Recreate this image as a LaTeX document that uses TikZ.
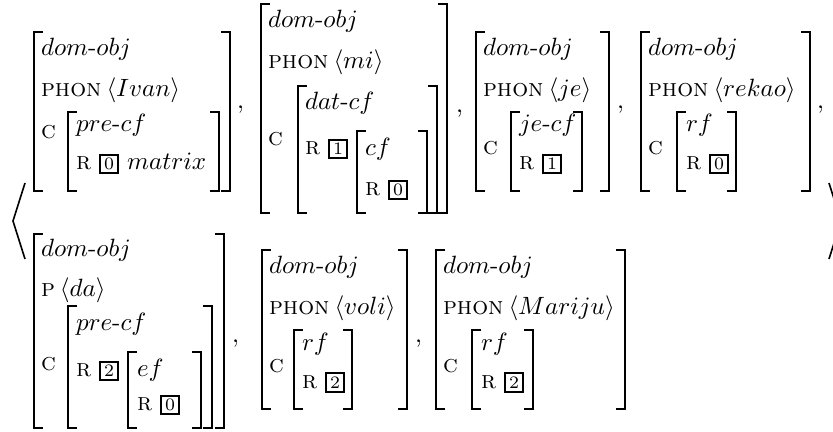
\documentclass[tikz,border=0pt]{standalone}
\usepackage{fontspec}
\newcommand{\tagbx}[1]{{\setlength{\fboxsep}{0pt}\setlength{\fboxrule}{0.8pt}\fbox{\makebox[6.2pt]{\rule[-1pt]{0pt}{6.6pt}\scriptsize #1}}}}
\newcommand{\avmL}[3]{\draw[brk] (#1+9,#2) -- (#1,#2) -- (#1,#3) -- (#1+9,#3);}
\newcommand{\avmR}[3]{\draw[brk] (#1-9,#2) -- (#1,#2) -- (#1,#3) -- (#1-9,#3);}
\newcommand{\dobj}{$dom$-$obj$}
\tikzset{
  txt/.style={anchor=base west, inner sep=0pt, outer sep=0pt, font=\fontsize{10pt}{12pt}\selectfont},
  brk/.style={line width=1pt, line cap=butt, line join=miter},
  ang/.style={line width=0.65pt, line join=miter},
}
\begin{document}
\begin{tikzpicture}[x=0.4pt,y=-0.4pt]
\useasboundingbox (0,0) rectangle (833,432);
\clip (0,0) rectangle (833,432);
% angle brackets
\draw[ang] (25,183) -- (13,221) -- (25,259);
\draw[ang] (829,183) -- (841,221) -- (829,259);
% ---------- AVM 1
\avmL{34}{32}{191} \avmR{230}{32}{191}
\avmL{68}{112}{191} \avmR{219}{112}{191}
\node[txt] (a1t) at (41,56) {\dobj};
\node[txt] (a1p) at (41,97) {\textsc{phon}\hspace{2pt}$\langle Ivan\rangle$};
\node[txt] (a1c) at (41,139) {\textsc{c}};
\node[txt] (a1it) at (76,132) {$pre$-$cf$};
\node[txt] (a1ir) at (76,170) {\textsc{r} \tagbx{0} $matrix$};
\node[txt] (cm1) at (237,109) {,};
% ---------- AVM 2
\avmL{261}{4}{213} \avmR{447}{4}{213}
\avmL{298}{86}{213} \avmR{437}{86}{213}
\avmL{357}{131}{213} \avmR{427}{131}{213}
\node[txt] (a2t) at (268,28) {\dobj};
\node[txt] (a2p) at (268,69) {\textsc{phon}\hspace{2pt}$\langle mi\rangle$};
\node[txt] (a2c) at (268,146) {\textsc{c}};
\node[txt] (a2it) at (305,110) {$dat$-$cf$};
\node[txt] (a2ir) at (305,155) {\textsc{r} \tagbx{1}};
\node[txt] (a2jt) at (365,156) {$cf$};
\node[txt] (a2jr) at (365,196) {\textsc{r} \tagbx{0}};
\node[txt] (cm2) at (456,113) {,};
% ---------- AVM 3
\avmL{476}{32}{191} \avmR{609}{32}{191}
\avmL{511}{112}{191} \avmR{582}{112}{191}
\node[txt] (a3t) at (483,56) {\dobj};
\node[txt] (a3p) at (483,97) {\textsc{phon}\hspace{2pt}$\langle je\rangle$};
\node[txt] (a3c) at (483,155) {\textsc{c}};
\node[txt] (a3it) at (519,132) {$je$-$cf$};
\node[txt] (a3ir) at (519,170) {\textsc{r} \tagbx{1}};
\node[txt] (cm3) at (617,109) {,};
% ---------- AVM 4
\avmL{641}{32}{191} \avmR{810}{32}{191}
\avmL{677}{112}{191} \avmR{736}{112}{191}
\node[txt] (a4t) at (648,56) {\dobj};
\node[txt] (a4p) at (648,97) {\textsc{phon}\hspace{2pt}$\langle rekao\rangle$};
\node[txt] (a4c) at (648,155) {\textsc{c}};
\node[txt] (a4it) at (686,132) {$rf$};
\node[txt] (a4ir) at (686,170) {\textsc{r} \tagbx{0}};
\node[txt] (cm4) at (817,109) {,};
% ---------- AVM 5
\avmL{34}{234}{428} \avmR{224}{234}{428}
\avmL{68}{306}{428} \avmR{212}{306}{428}
\avmL{128}{352}{428} \avmR{201}{352}{428}
\node[txt] (a5t) at (41,257) {\dobj};
\node[txt] (a5p) at (41,297) {\textsc{p}\hspace{2pt}$\langle da\rangle$};
\node[txt] (a5c) at (41,371) {\textsc{c}};
\node[txt] (a5it) at (76,330) {$pre$-$cf$};
\node[txt] (a5ir) at (76,377) {\textsc{r} \tagbx{2}};
\node[txt] (a5jt) at (137,376) {$ef$};
\node[txt] (a5jr) at (137,411) {\textsc{r} \tagbx{0}};
\node[txt] (cm5) at (232,343) {,};
% ---------- AVM 6
\avmL{262}{250}{409} \avmR{407}{250}{409}
\avmL{294}{330}{409} \avmR{352}{330}{409}
\node[txt] (a6t) at (269,274) {\dobj};
\node[txt] (a6p) at (269,315) {\textsc{phon}\hspace{2pt}$\langle voli\rangle$};
\node[txt] (a6c) at (269,373) {\textsc{c}};
\node[txt] (a6it) at (302,350) {$rf$};
\node[txt] (a6ir) at (302,388) {\textsc{r} \tagbx{2}};
\node[txt] (cm6) at (415,343) {,};
% ---------- AVM 7
\avmL{436}{250}{409} \avmR{625}{250}{409}
\avmL{472}{330}{409} \avmR{533}{330}{409}
\node[txt] (a7t) at (443,274) {\dobj};
\node[txt] (a7p) at (443,315) {\textsc{phon}\hspace{2pt}$\langle Mariju\rangle$};
\node[txt] (a7c) at (443,373) {\textsc{c}};
\node[txt] (a7it) at (481,350) {$rf$};
\node[txt] (a7ir) at (481,388) {\textsc{r} \tagbx{2}};
\end{tikzpicture}
\end{document}
